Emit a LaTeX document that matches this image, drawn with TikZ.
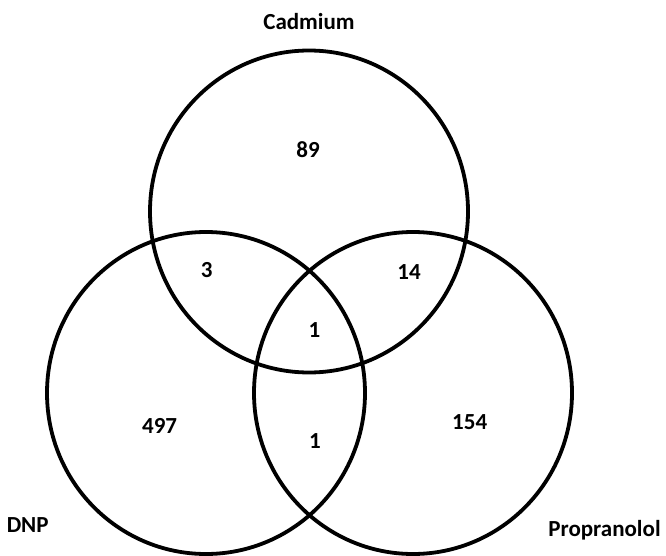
\documentclass[tikz,border=0pt]{standalone}
\usepackage{fontspec}
\setmainfont{Carlito}
\usetikzlibrary{shapes.geometric}
\begin{document}
\begin{tikzpicture}[x=1pt,y=-1pt,
  setring/.style={ellipse, draw=black, line width=3.8pt, minimum width=318pt, minimum height=322pt, inner sep=0pt},
  lbl/.style={anchor=base, font=\bfseries\fontsize{23}{26}\selectfont, inner sep=0pt}]
\useasboundingbox (0,0) rectangle (666,556);
\node[setring] (cad) at (309,211.5) {};
\node[setring] (dnp) at (206,393) {};
\node[setring] (pro) at (413,393) {};
\node[lbl] (tcad) at (309,29.5) {Cadmium};
\node[lbl] (tdnp) at (27.7,532.7) {DNP};
\node[lbl] (tpro) at (604.5,536) {Propranolol};
\node[lbl] (n89) at (308,158) {89};
\node[lbl] (n3) at (206.7,277.5) {3};
\node[lbl] (n14) at (409,279) {14};
\node[lbl] (n1a) at (314.5,337.5) {1};
\node[lbl] (n497) at (159.6,433) {497};
\node[lbl] (n1b) at (315,448.5) {1};
\node[lbl] (n154) at (469.7,429.7) {154};
\end{tikzpicture}
\end{document}
